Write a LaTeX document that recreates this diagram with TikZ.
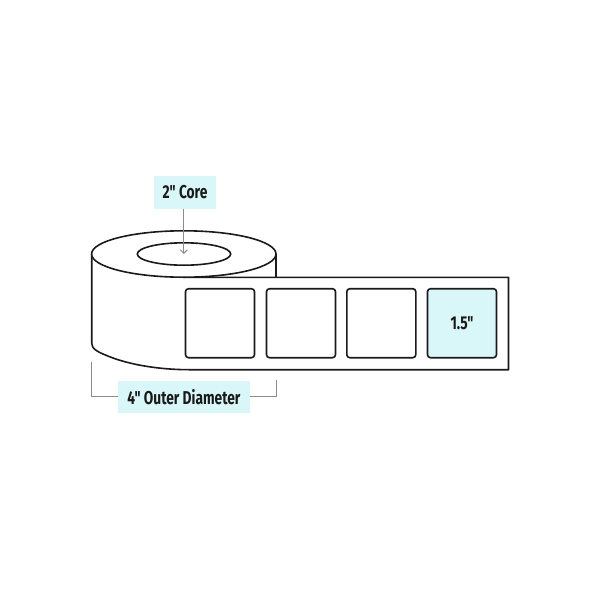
\documentclass[tikz,border=0pt]{standalone}
\usepackage{fontspec}
\newfontfamily\labelfont[FakeStretch=0.74]{Fira Sans}
\usetikzlibrary{arrows.meta}
\definecolor{paleblue}{HTML}{D9F7F8}
\definecolor{inkblack}{HTML}{1A1A1A}
\definecolor{leadgray}{HTML}{8C8C8C}
\tikzset{
    outline/.style={line width=1.6pt, draw=inkblack},
    leader/.style={line width=1pt, draw=leadgray},
    labelbox/.style={outline, rounded corners=3pt, minimum width=69pt, minimum height=69pt, inner sep=0pt, outer sep=0pt, fill=white},
    labeltext/.style={text=inkblack, font=\fontsize{18.6}{20}\labelfont\bfseries},
    callout/.style={labeltext, fill=paleblue, inner sep=0pt, outer sep=0pt},
}

\begin{document}
\begin{tikzpicture}[x=1pt, y=-1pt]
    \useasboundingbox (0, 0) rectangle (600, 600);
    % roll body and strip
    \draw[outline, fill=white, line join=round] (91.7, 254) -- (91.7, 343) .. controls (91.7, 349) and (97, 352) .. (113, 358) .. controls (128, 363.5) and (155, 369.7) .. (190, 369.7) -- (508.5, 369.7) -- (508.5, 277.3) -- (183.5, 277.3);
    \draw[outline] (276, 254) -- (276, 277.3);
    \draw[outline, fill=white] (183.8, 254) ellipse (92.2 and 23.2);
    \draw[outline] (184, 254) ellipse (46.7 and 11.2);
    % labels
    \foreach \name/\xpos in {labelA/220, labelB/301, labelC/381.3}
        \node[labelbox] (\name) at (\xpos, 323.2) {};
    \node[labelbox, labeltext, fill=paleblue] (labelD) at (462, 323.2) {1.5"};
    % callouts
    \node[callout, minimum width=62pt, minimum height=32.5pt] (core) at (185, 192.3) {2" Core};
    \coordinate (coreend) at (183.8, 254);
    \draw[leader, -{Straight Barb[length=3.5pt, width=7pt]}] (core.south -| coreend) -- (coreend);
    \node[callout, minimum width=132pt, minimum height=32pt] (diameter) at (184, 396.8) {4" Outer Diameter};
    \coordinate (dialeft) at (91.5, 361.5);
    \coordinate (diaright) at (276.3, 379.5);
    \draw[leader] (dialeft) |- (diameter.west);
    \draw[leader] (diaright) |- (diameter.east);
\end{tikzpicture}
\end{document}
